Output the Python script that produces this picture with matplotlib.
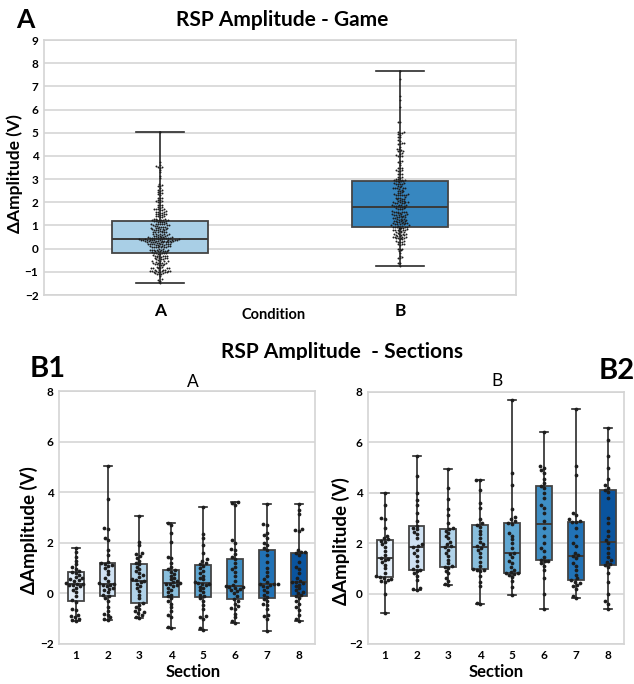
import numpy as np
import matplotlib
matplotlib.use("Agg")
import matplotlib.pyplot as plt
import seaborn as sns
from matplotlib.transforms import Bbox

plt.rcParams['font.family'] = ['Lato', 'DejaVu Sans']

# RSP amplitude change per section, condition A
sections_a = [
    [-1.10, -1.05, -1.00, -0.95, -0.90, -0.85, -0.65, -0.60, -0.35, -0.28, -0.10, 0.05,
     0.15, 0.22, 0.28, 0.32, 0.35, 0.37, 0.39, 0.42, 0.48, 0.52, 0.55, 0.60, 0.65, 0.72,
     0.82, 0.86, 0.90, 0.98, 1.05, 1.15, 1.30, 1.45, 1.65, 1.80],
    [-1.05, -1.00, -0.95, -0.85, -0.80, -0.70, -0.55, -0.30, -0.18, -0.12, -0.05, 0.05,
     0.12, 0.18, 0.22, 0.28, 0.32, 0.34, 0.36, 0.40, 0.48, 0.60, 0.75, 0.90, 1.00, 1.08,
     1.14, 1.18, 1.22, 1.25, 1.50, 1.70, 2.10, 2.20, 2.55, 2.60, 3.75, 5.05],
    [-0.97, -0.92, -0.85, -0.78, -0.72, -0.68, -0.60, -0.52, -0.45, -0.38, -0.20, -0.05,
     0.10, 0.22, 0.30, 0.38, 0.45, 0.48, 0.52, 0.58, 0.65, 0.72, 0.80, 0.88, 0.95, 1.05,
     1.15, 1.22, 1.30, 1.40, 1.48, 1.55, 1.60, 1.90, 2.05, 3.05],
    [-1.38, -1.32, -0.95, -0.85, -0.70, -0.55, -0.40, -0.30, -0.20, -0.12, -0.05, 0.05,
     0.15, 0.22, 0.28, 0.33, 0.37, 0.39, 0.41, 0.45, 0.50, 0.55, 0.62, 0.70, 0.78, 0.85,
     0.92, 0.96, 1.05, 1.20, 1.40, 1.45, 2.05, 2.40, 2.72, 2.78],
    [-1.43, -1.35, -1.00, -0.95, -0.90, -0.60, -0.45, -0.30, -0.20, -0.12, -0.05, 0.05,
     0.12, 0.20, 0.27, 0.32, 0.36, 0.39, 0.41, 0.46, 0.55, 0.62, 0.70, 0.80, 0.90, 1.00,
     1.10, 1.15, 1.22, 1.28, 1.35, 1.60, 1.90, 2.20, 2.35, 3.40],
    [-1.18, -1.10, -0.95, -0.80, -0.62, -0.58, -0.50, -0.40, -0.30, -0.22, -0.10, 0.00,
     0.08, 0.12, 0.18, 0.22, 0.25, 0.27, 0.29, 0.35, 0.50, 0.70, 0.85, 0.95, 1.05, 1.20,
     1.35, 1.42, 1.55, 1.70, 1.75, 2.00, 2.10, 3.50, 3.58, 3.62],
    [-1.50, -1.00, -0.90, -0.85, -0.60, -0.45, -0.40, -0.30, -0.22, -0.15, -0.05, 0.05,
     0.15, 0.25, 0.30, 0.34, 0.36, 0.37, 0.39, 0.45, 0.55, 0.70, 0.85, 1.00, 1.25, 1.50,
     1.70, 1.80, 1.90, 2.00, 2.20, 2.30, 2.40, 2.70, 2.75, 3.53],
    [-1.08, -1.00, -0.85, -0.65, -0.55, -0.40, -0.30, -0.20, -0.12, -0.08, 0.00, 0.05,
     0.12, 0.20, 0.28, 0.35, 0.40, 0.44, 0.46, 0.50, 0.62, 0.80, 0.95, 1.05, 1.25, 1.50,
     1.58, 1.62, 1.65, 1.70, 2.45, 2.50, 2.55, 3.15, 3.30, 3.53],
]

# RSP amplitude change per section, condition B
sections_b = [
    [-0.77, 0.00, 0.45, 0.50, 0.55, 0.58, 0.62, 0.64, 0.68, 0.80, 1.00, 1.15, 1.25, 1.35,
     1.38, 1.42, 1.55, 1.70, 1.85, 1.95, 2.05, 2.10, 2.15, 2.22, 2.30, 2.60, 2.95, 3.00,
     3.50, 4.00],
    [0.15, 0.18, 0.22, 0.55, 0.70, 0.80, 0.90, 0.94, 0.98, 1.10, 1.30, 1.50, 1.60, 1.75,
     1.84, 1.88, 1.95, 2.20, 2.35, 2.45, 2.55, 2.60, 2.70, 2.90, 3.20, 3.50, 3.70, 4.00,
     4.65, 5.47],
    [0.33, 0.40, 0.50, 0.62, 0.80, 0.90, 1.00, 1.05, 1.08, 1.20, 1.35, 1.50, 1.60, 1.75,
     1.83, 1.87, 1.95, 2.05, 2.20, 2.30, 2.40, 2.50, 2.58, 2.62, 2.80, 3.10, 3.35, 3.75,
     4.20, 4.95],
    [-0.42, -0.38, 0.30, 0.45, 0.70, 0.88, 0.92, 0.95, 0.99, 1.10, 1.25, 1.45, 1.60, 1.72,
     1.82, 1.88, 1.95, 2.05, 2.20, 2.35, 2.50, 2.66, 2.72, 2.80, 2.95, 3.40, 3.60, 4.10,
     4.50, 4.52],
    [-0.07, 0.28, 0.50, 0.65, 0.72, 0.78, 0.80, 0.83, 0.85, 0.95, 1.05, 1.20, 1.30, 1.45,
     1.58, 1.62, 1.80, 2.00, 2.15, 2.30, 2.40, 2.78, 2.82, 2.90, 2.98, 3.05, 3.35, 4.30,
     4.80, 7.68],
    [-0.63, 0.00, 0.60, 0.95, 1.10, 1.20, 1.28, 1.31, 1.35, 1.45, 1.70, 1.80, 2.00, 2.30,
     2.62, 2.90, 3.20, 3.40, 3.50, 3.80, 4.00, 4.20, 4.27, 4.40, 4.55, 4.80, 4.90, 5.00,
     5.05, 6.40],
    [-0.17, -0.10, 0.20, 0.30, 0.35, 0.42, 0.48, 0.52, 0.60, 0.75, 0.95, 1.10, 1.20, 1.40,
     1.48, 1.52, 1.60, 1.90, 2.00, 2.30, 2.60, 2.83, 2.86, 2.90, 2.95, 3.10, 3.20, 4.70,
     5.05, 7.33],
    [-0.60, -0.40, -0.30, 0.00, 0.45, 0.80, 1.05, 1.13, 1.17, 1.25, 1.32, 1.45, 1.60, 1.80,
     2.00, 2.12, 2.30, 2.50, 2.80, 3.00, 3.80, 4.05, 4.12, 4.20, 4.30, 4.55, 5.00, 5.45,
     6.10, 6.58],
]

conditions = ['A', 'B']
section_labels = ['1', '2', '3', '4', '5', '6', '7', '8']
condition_colors = ['#a9cfe6', '#3787c0']
section_colors = ['#e3eef9', '#cfe1f2', '#b0d2e8', '#89bedc',
                  '#60a7d2', '#3e8ec4', '#2172b6', '#0a549e']

# whole game = all sections pooled
game = [np.concatenate(sections_a), np.concatenate(sections_b)]

W, H = 634, 684
fig = plt.figure(figsize=(W / 100, H / 100), dpi=100)


def px(x0, y0, x1, y1):
    return [x0 / W, 1 - y1 / H, (x1 - x0) / W, (y1 - y0) / H]


def boxes(ax, data, colors, width, cap):
    pos = np.arange(len(data))
    bp = ax.boxplot(data, positions=pos, widths=width, whis=(0, 100), patch_artist=True,
                    showfliers=False, capwidths=cap, zorder=2,
                    medianprops=dict(color='#3a3a3a', lw=1.4),
                    whiskerprops=dict(color='#2a2a2a', lw=1.2),
                    capprops=dict(color='#2a2a2a', lw=1.2),
                    boxprops=dict(edgecolor='#444444', lw=1.3))
    for patch, c in zip(bp['boxes'], colors):
        patch.set_facecolor(c)


def style(ax, ylim, yticks, tick_fs):
    ax.set_ylim(*ylim)
    ax.set_yticks(yticks)
    ax.grid(axis='y', color='#dcdcdc', lw=1.4, zorder=0)
    ax.set_axisbelow(True)
    for s in ax.spines.values():
        s.set_color('#d4d4d4')
        s.set_linewidth(1.2)
    ax.tick_params(length=0, labelsize=tick_fs, pad=4)
    for lab in ax.get_yticklabels():
        lab.set_fontweight('bold')
    ax.set_xlabel('')
    ax.set_ylabel('')


# --- top: game ---
ax0 = fig.add_axes(px(44, 40, 516, 295))
boxes(ax0, game, condition_colors, 0.4, 0.2)
sns.swarmplot(data=game, ax=ax0, color='#1e1e1e', size=1.4, zorder=3)
ax0.set_xlim(-0.483, 1.483)
style(ax0, (-2, 9), range(-2, 10), 8.5)
ax0.set_xticks([0, 1])
ax0.set_xticklabels(conditions, fontsize=12.5, fontweight='bold')
ax0.tick_params(axis='x', pad=6)

fig.text(25 / W, 1 - 20 / H, 'A', fontsize=19, fontweight='bold', ha='center', va='center')
fig.text(282 / W, 1 - 20 / H, 'RSP Amplitude - Game', fontsize=15, fontweight='bold',
         ha='center', va='center')
fig.text(15 / W, 1 - 174 / H, 'ΔAmplitude (V)', fontsize=12.5, fontweight='bold',
         rotation=90, ha='center', va='center')
fig.text(274 / W, 1 - 315 / H, 'Condition', fontsize=10.5, fontweight='bold',
         ha='center', va='center')

# --- bottom: sections ---
ax1 = fig.add_axes(px(59, 391, 315, 644))
ax2 = fig.add_axes(px(368, 392, 624, 644))
for ax, data in [(ax1, sections_a), (ax2, sections_b)]:
    boxes(ax, data, section_colors, 0.5, 0.25)
    sns.swarmplot(data=data, ax=ax, color='#1e1e1e', size=2.7, zorder=3)
    ax.set_xlim(-0.52, 7.5)
    style(ax, (-2, 8), range(-2, 9, 2), 8.5)
    ax.set_xticks(range(8))
    ax.set_xticklabels(section_labels, fontsize=8.5, fontweight='bold')

sup = fig.text(342 / W, 1 - 352 / H, 'RSP Amplitude  - Sections', fontsize=15,
               fontweight='bold', ha='center', va='center')
sup.set_clip_box(Bbox.from_extents(0, H - 360, W, H))

fig.text(48 / W, 1 - 369 / H, 'B1', fontsize=21, fontweight='bold', ha='center', va='center')
fig.text(617 / W, 1 - 371 / H, 'B2', fontsize=21, fontweight='bold', ha='center', va='center')
fig.text(193 / W, 1 - 382 / H, 'A', fontsize=12.5, ha='center', va='center')
fig.text(497 / W, 1 - 381 / H, 'B', fontsize=12.5, ha='center', va='center')

for x, y in ((29, 530), (341, 541)):
    fig.text(x / W, 1 - y / H, 'ΔAmplitude (V)', fontsize=13.5, fontweight='bold',
             rotation=90, ha='center', va='center')
for x in (193, 496):
    fig.text(x / W, 1 - 672 / H, 'Section', fontsize=12, fontweight='bold',
             ha='center', va='center')

fig.savefig('out.png', dpi=100)
